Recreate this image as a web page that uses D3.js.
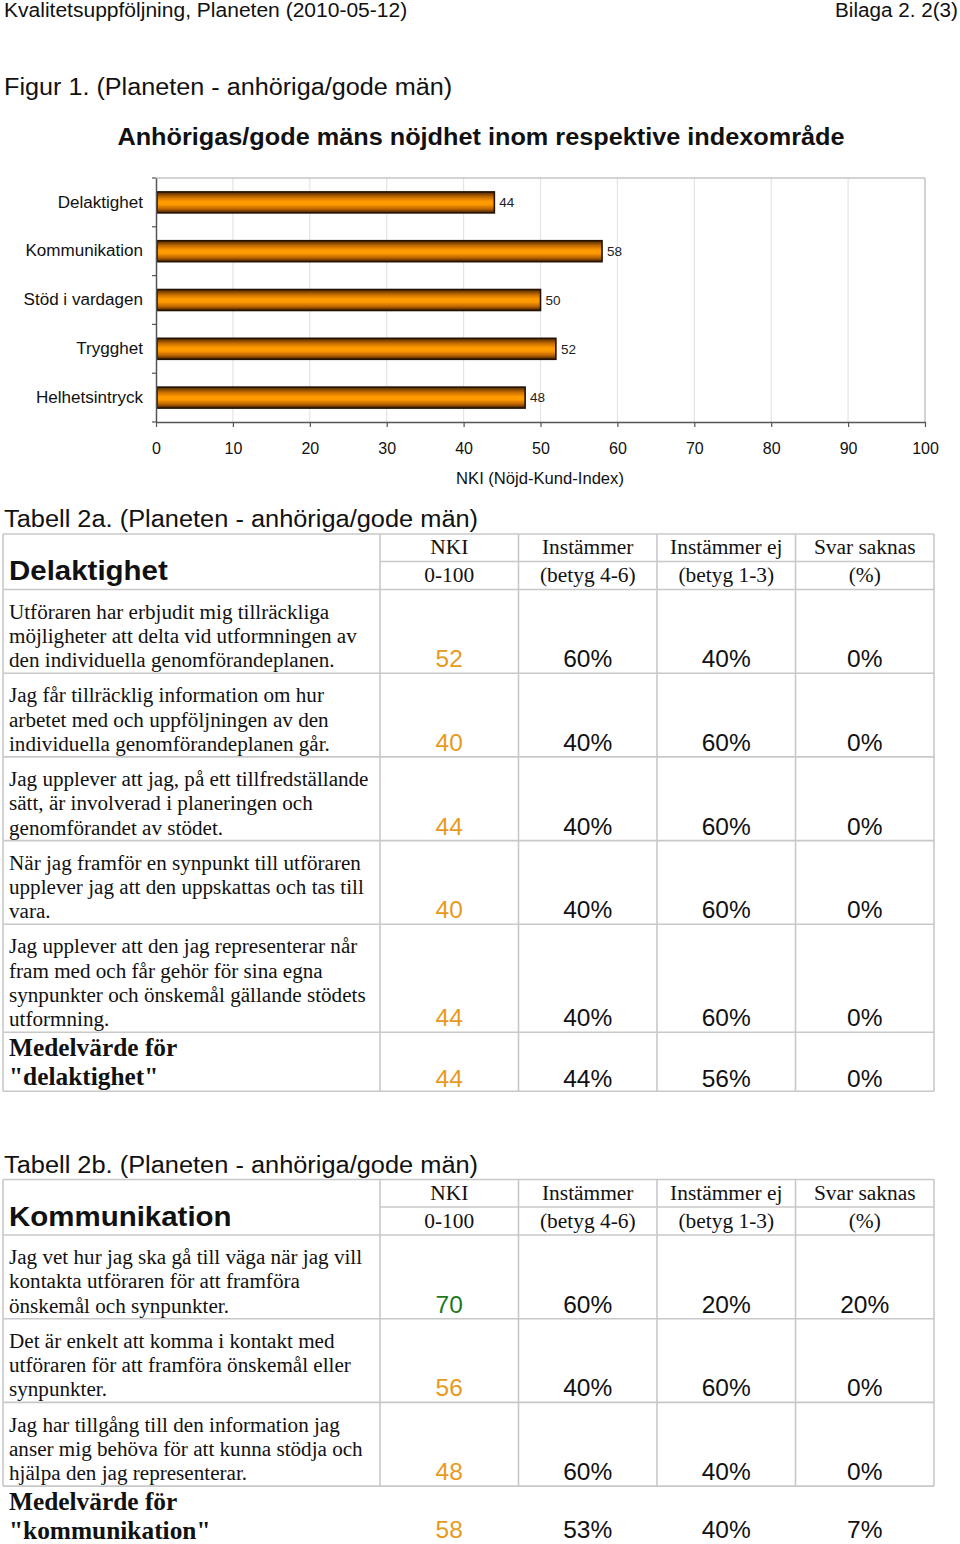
<!DOCTYPE html>
<html><head><meta charset="utf-8">
<script src="https://cdn.jsdelivr.net/npm/d3@7"></script>
<style>
html,body{margin:0;padding:0;background:#fff;}
svg{display:block;}
</style></head>
<body>
<script>
// ---------- data ----------
const categories = ["Delaktighet","Kommunikation","Stöd i vardagen","Trygghet","Helhetsintryck"];
const nkiValues = [44,58,50,52,48];
const xTicks = [0,10,20,30,40,50,60,70,80,90,100];

const headerTop = ["NKI","Instämmer","Instämmer ej","Svar saknas"];
const headerBottom = ["0-100","(betyg 4-6)","(betyg 1-3)","(%)"];

const questions2a = [
  ["Utföraren har erbjudit mig tillräckliga","möjligheter att delta vid utformningen av","den individuella genomförandeplanen."],
  ["Jag får tillräcklig information om hur","arbetet med och uppföljningen av den","individuella genomförandeplanen går."],
  ["Jag upplever att jag, på ett tillfredställande","sätt, är involverad i planeringen och","genomförandet av stödet."],
  ["När jag framför en synpunkt till utföraren","upplever jag att den uppskattas och tas till","vara."],
  ["Jag upplever att den jag representerar når","fram med och får gehör för sina egna","synpunkter och önskemål gällande stödets","utformning."]
];
const nki2a = [52,40,44,40,44];
const agree2a = ["60%","40%","40%","40%","40%"];
const disagree2a = ["40%","60%","60%","60%","60%"];
const missing2a = ["0%","0%","0%","0%","0%"];
const meanLabel2a = ["Medelvärde för","\"delaktighet\""];
const mean2a = [44,"44%","56%","0%"];

const questions2b = [
  ["Jag vet hur jag ska gå till väga när jag vill","kontakta utföraren för att framföra","önskemål och synpunkter."],
  ["Det är enkelt att komma i kontakt med","utföraren för att framföra önskemål eller","synpunkter."],
  ["Jag har tillgång till den information jag","anser mig behöva för att kunna stödja och","hjälpa den jag representerar."]
];
const nki2b = [70,56,48];
const agree2b = ["60%","40%","60%"];
const disagree2b = ["20%","60%","40%"];
const missing2b = ["20%","0%","0%"];
const meanLabel2b = ["Medelvärde för","\"kommunikation\""];
const mean2b = [58,"53%","40%","7%"];

// ---------- svg ----------
const W = 960, H = 1544;
const svg = d3.select("body").append("svg").attr("width",W).attr("height",H);
const sans = "'Liberation Sans', Arial, Helvetica, sans-serif";
const serif = "'Liberation Serif', 'Times New Roman', serif";

function stretch(sel, f){
  sel.each(function(){
    const L = this.getComputedTextLength();
    d3.select(this).attr("textLength", L*f).attr("lengthAdjust","spacingAndGlyphs");
  });
  return sel;
}

// page header
stretch(svg.append("text").attr("x",4).attr("y",17).attr("font-family",sans).attr("font-size",19.5).attr("fill","#111")
  .text("Kvalitetsuppföljning, Planeten (2010-05-12)"),1.078);
stretch(svg.append("text").attr("x",958).attr("y",17).attr("text-anchor","end").attr("font-family",sans).attr("font-size",19.5).attr("fill","#111")
  .text("Bilaga 2. 2(3)"),1.06);
stretch(svg.append("text").attr("x",4).attr("y",95).attr("font-family",sans).attr("font-size",23.5).attr("fill","#111")
  .text("Figur 1. (Planeten - anhöriga/gode män)"),1.072);
stretch(svg.append("text").attr("x",481).attr("y",145).attr("text-anchor","middle").attr("font-family",sans).attr("font-weight","bold").attr("font-size",23.5).attr("fill","#111")
  .text("Anhörigas/gode mäns nöjdhet inom respektive indexområde"),1.075);

// ---------- chart ----------
const plot = {left:156, right:925, top:178, bottom:422};
const x = d3.scaleLinear().domain([0,100]).range([plot.left, plot.right]);
const y = d3.scaleBand().domain(categories).range([plot.top, plot.bottom]).paddingInner(0.57).paddingOuter(0.285);

const defs = svg.append("defs");
const grad = defs.append("linearGradient").attr("id","barGrad").attr("x1",0).attr("y1",0).attr("x2",0).attr("y2",1);
[[0,"#4a2600"],[0.25,"#c86e00"],[0.45,"#ff9a00"],[0.6,"#ff9a00"],[0.82,"#b86200"],[1,"#3a1d00"]]
  .forEach(([o,c])=>grad.append("stop").attr("offset",o).attr("stop-color",c));

const g = svg.append("g");
// gridlines
g.selectAll("line.grid").data(xTicks.slice(1)).join("line").attr("class","grid")
  .attr("x1",d=>x(d)).attr("x2",d=>x(d)).attr("y1",plot.top).attr("y2",plot.bottom)
  .attr("stroke",d=>d===100?"#c4c4c4":"#e4e4e4").attr("stroke-width",d=>d===100?1.5:1.2);
// top border
g.append("line").attr("x1",plot.left).attr("x2",plot.right).attr("y1",plot.top).attr("y2",plot.top)
  .attr("stroke","#c4c4c4").attr("stroke-width",1.5);

// bars
g.selectAll("rect.bar").data(categories).join("rect").attr("class","bar")
  .attr("x",x(0)+1).attr("y",d=>y(d))
  .attr("width",(d,i)=>x(nkiValues[i])-x(0)-1).attr("height",y.bandwidth())
  .attr("fill","url(#barGrad)").attr("stroke","#241200").attr("stroke-width",1.6);
// value labels
g.selectAll("text.val").data(categories).join("text").attr("class","val")
  .attr("x",(d,i)=>x(nkiValues[i])+5).attr("y",d=>y(d)+y.bandwidth()/2).attr("dy","0.35em")
  .attr("font-family",sans).attr("font-size",13.5).attr("fill","#222")
  .text((d,i)=>nkiValues[i]);

// x axis
const xAxis = d3.axisBottom(x).tickValues(xTicks).tickSize(5).tickPadding(16).tickSizeOuter(0);
const gx = svg.append("g").attr("transform",`translate(0,${plot.bottom})`).call(xAxis);
gx.select(".domain").attr("stroke","#555").attr("stroke-width",1.5);
gx.selectAll(".tick line").attr("stroke","#555").attr("stroke-width",1.2);
gx.selectAll(".tick text").attr("font-family",sans).attr("font-size",16).attr("fill","#111");

// y axis
const yAxis = d3.axisLeft(y).tickSize(0).tickPadding(13);
const gy = svg.append("g").attr("transform",`translate(${plot.left},0)`).call(yAxis);
gy.select(".domain").attr("stroke","#555").attr("stroke-width",1.5);
stretch(gy.selectAll(".tick text").attr("font-family",sans).attr("font-size",16).attr("fill","#111"),1.066);
// y tick marks at band boundaries
const bounds = categories.map(c=>y(c)-y.step()*y.paddingInner()/2).concat([plot.bottom]);
gy.selectAll("line.btick").data(bounds).join("line").attr("class","btick")
  .attr("x1",-4).attr("x2",0).attr("y1",d=>d).attr("y2",d=>d).attr("stroke","#555").attr("stroke-width",1.2);

stretch(svg.append("text").attr("x",540).attr("y",484).attr("text-anchor","middle")
  .attr("font-family",sans).attr("font-size",16).attr("fill","#111").text("NKI (Nöjd-Kund-Index)"),1.037);

// ---------- tables ----------
const colX = [3,380,518.5,657,795.5,934];
const gridColor = "#c8c8c8";
const lineH = 24.3;

function nkiColor(v){ return v >= 62 ? "#1f7a1f" : "#e89a1e"; }

function drawTable(opt){
  const t = svg.append("g");
  stretch(t.append("text").attr("x",4).attr("y",opt.titleY).attr("font-family",sans).attr("font-size",23.5).attr("fill","#111").text(opt.title),1.08);
  const top = opt.top, mid = top+27.5, hb = top+55.5;
  const ln = (x1,y1,x2,y2)=>t.append("line").attr("x1",x1).attr("y1",y1).attr("x2",x2).attr("y2",y2)
      .attr("stroke",gridColor).attr("stroke-width",1.6);
  // header
  ln(colX[0],top,colX[5],top);
  ln(colX[1],mid,colX[5],mid);
  ln(colX[0],hb,colX[5],hb);
  colX.forEach(cx=>ln(cx,top,cx,hb));
  stretch(t.append("text").attr("x",9).attr("y",top+46).attr("font-family",sans).attr("font-weight","bold").attr("font-size",28).attr("fill","#111").text(opt.heading),1.052);
  headerTop.forEach((h,i)=>{
    stretch(t.append("text").attr("x",(colX[i+1]+colX[i+2])/2).attr("y",top+20).attr("text-anchor","middle")
      .attr("font-family",serif).attr("font-size",20).attr("fill","#111").text(h),1.07);
    stretch(t.append("text").attr("x",(colX[i+1]+colX[i+2])/2).attr("y",top+48).attr("text-anchor","middle")
      .attr("font-family",serif).attr("font-size",20).attr("fill","#111").text(headerBottom[i]),1.07);
  });
  // rows
  let yy = hb;
  opt.questions.forEach((q,r)=>{
    const h = q.length*lineH + 10.8;
    const bot = yy+h;
    colX.forEach(cx=>ln(cx,yy,cx,bot));
    ln(colX[0],bot,colX[5],bot);
    q.forEach((l,k)=>{
      stretch(t.append("text").attr("x",9).attr("y",bot-6-(q.length-1-k)*lineH)
        .attr("font-family",serif).attr("font-size",20).attr("fill","#111").text(l),1.056);
    });
    const vals = [opt.nki[r],opt.agree[r],opt.disagree[r],opt.missing[r]];
    vals.forEach((v,i)=>{
      t.append("text").attr("x",(colX[i+1]+colX[i+2])/2).attr("y",bot-6).attr("text-anchor","middle")
        .attr("font-family",sans).attr("font-size",24.5).attr("fill",i===0?nkiColor(v):"#111").text(v);
    });
    yy = bot;
  });
  // mean row
  const mb = yy+59;
  if(opt.meanBorders){
    colX.forEach(cx=>ln(cx,yy,cx,mb));
    ln(colX[0],mb,colX[5],mb);
  }
  opt.meanLabel.forEach((l,k)=>{
    stretch(t.append("text").attr("x",9).attr("y",yy+24+k*29).attr("font-family",serif).attr("font-weight","bold")
      .attr("font-size",24.5).attr("fill","#111").text(l),1.035);
  });
  opt.mean.forEach((v,i)=>{
    t.append("text").attr("x",(colX[i+1]+colX[i+2])/2).attr("y",Math.min(mb-4.5,1538)).attr("text-anchor","middle")
      .attr("font-family",sans).attr("font-size",24.5).attr("fill",i===0?nkiColor(v):"#111").text(v);
  });
}

drawTable({title:"Tabell 2a. (Planeten - anhöriga/gode män)", titleY:527, top:534, heading:"Delaktighet",
  questions:questions2a, nki:nki2a, agree:agree2a, disagree:disagree2a, missing:missing2a,
  meanLabel:meanLabel2a, mean:mean2a, meanBorders:true});
drawTable({title:"Tabell 2b. (Planeten - anhöriga/gode män)", titleY:1173, top:1179.5, heading:"Kommunikation",
  questions:questions2b, nki:nki2b, agree:agree2b, disagree:disagree2b, missing:missing2b,
  meanLabel:meanLabel2b, mean:mean2b, meanBorders:false});
</script>
</body></html>
